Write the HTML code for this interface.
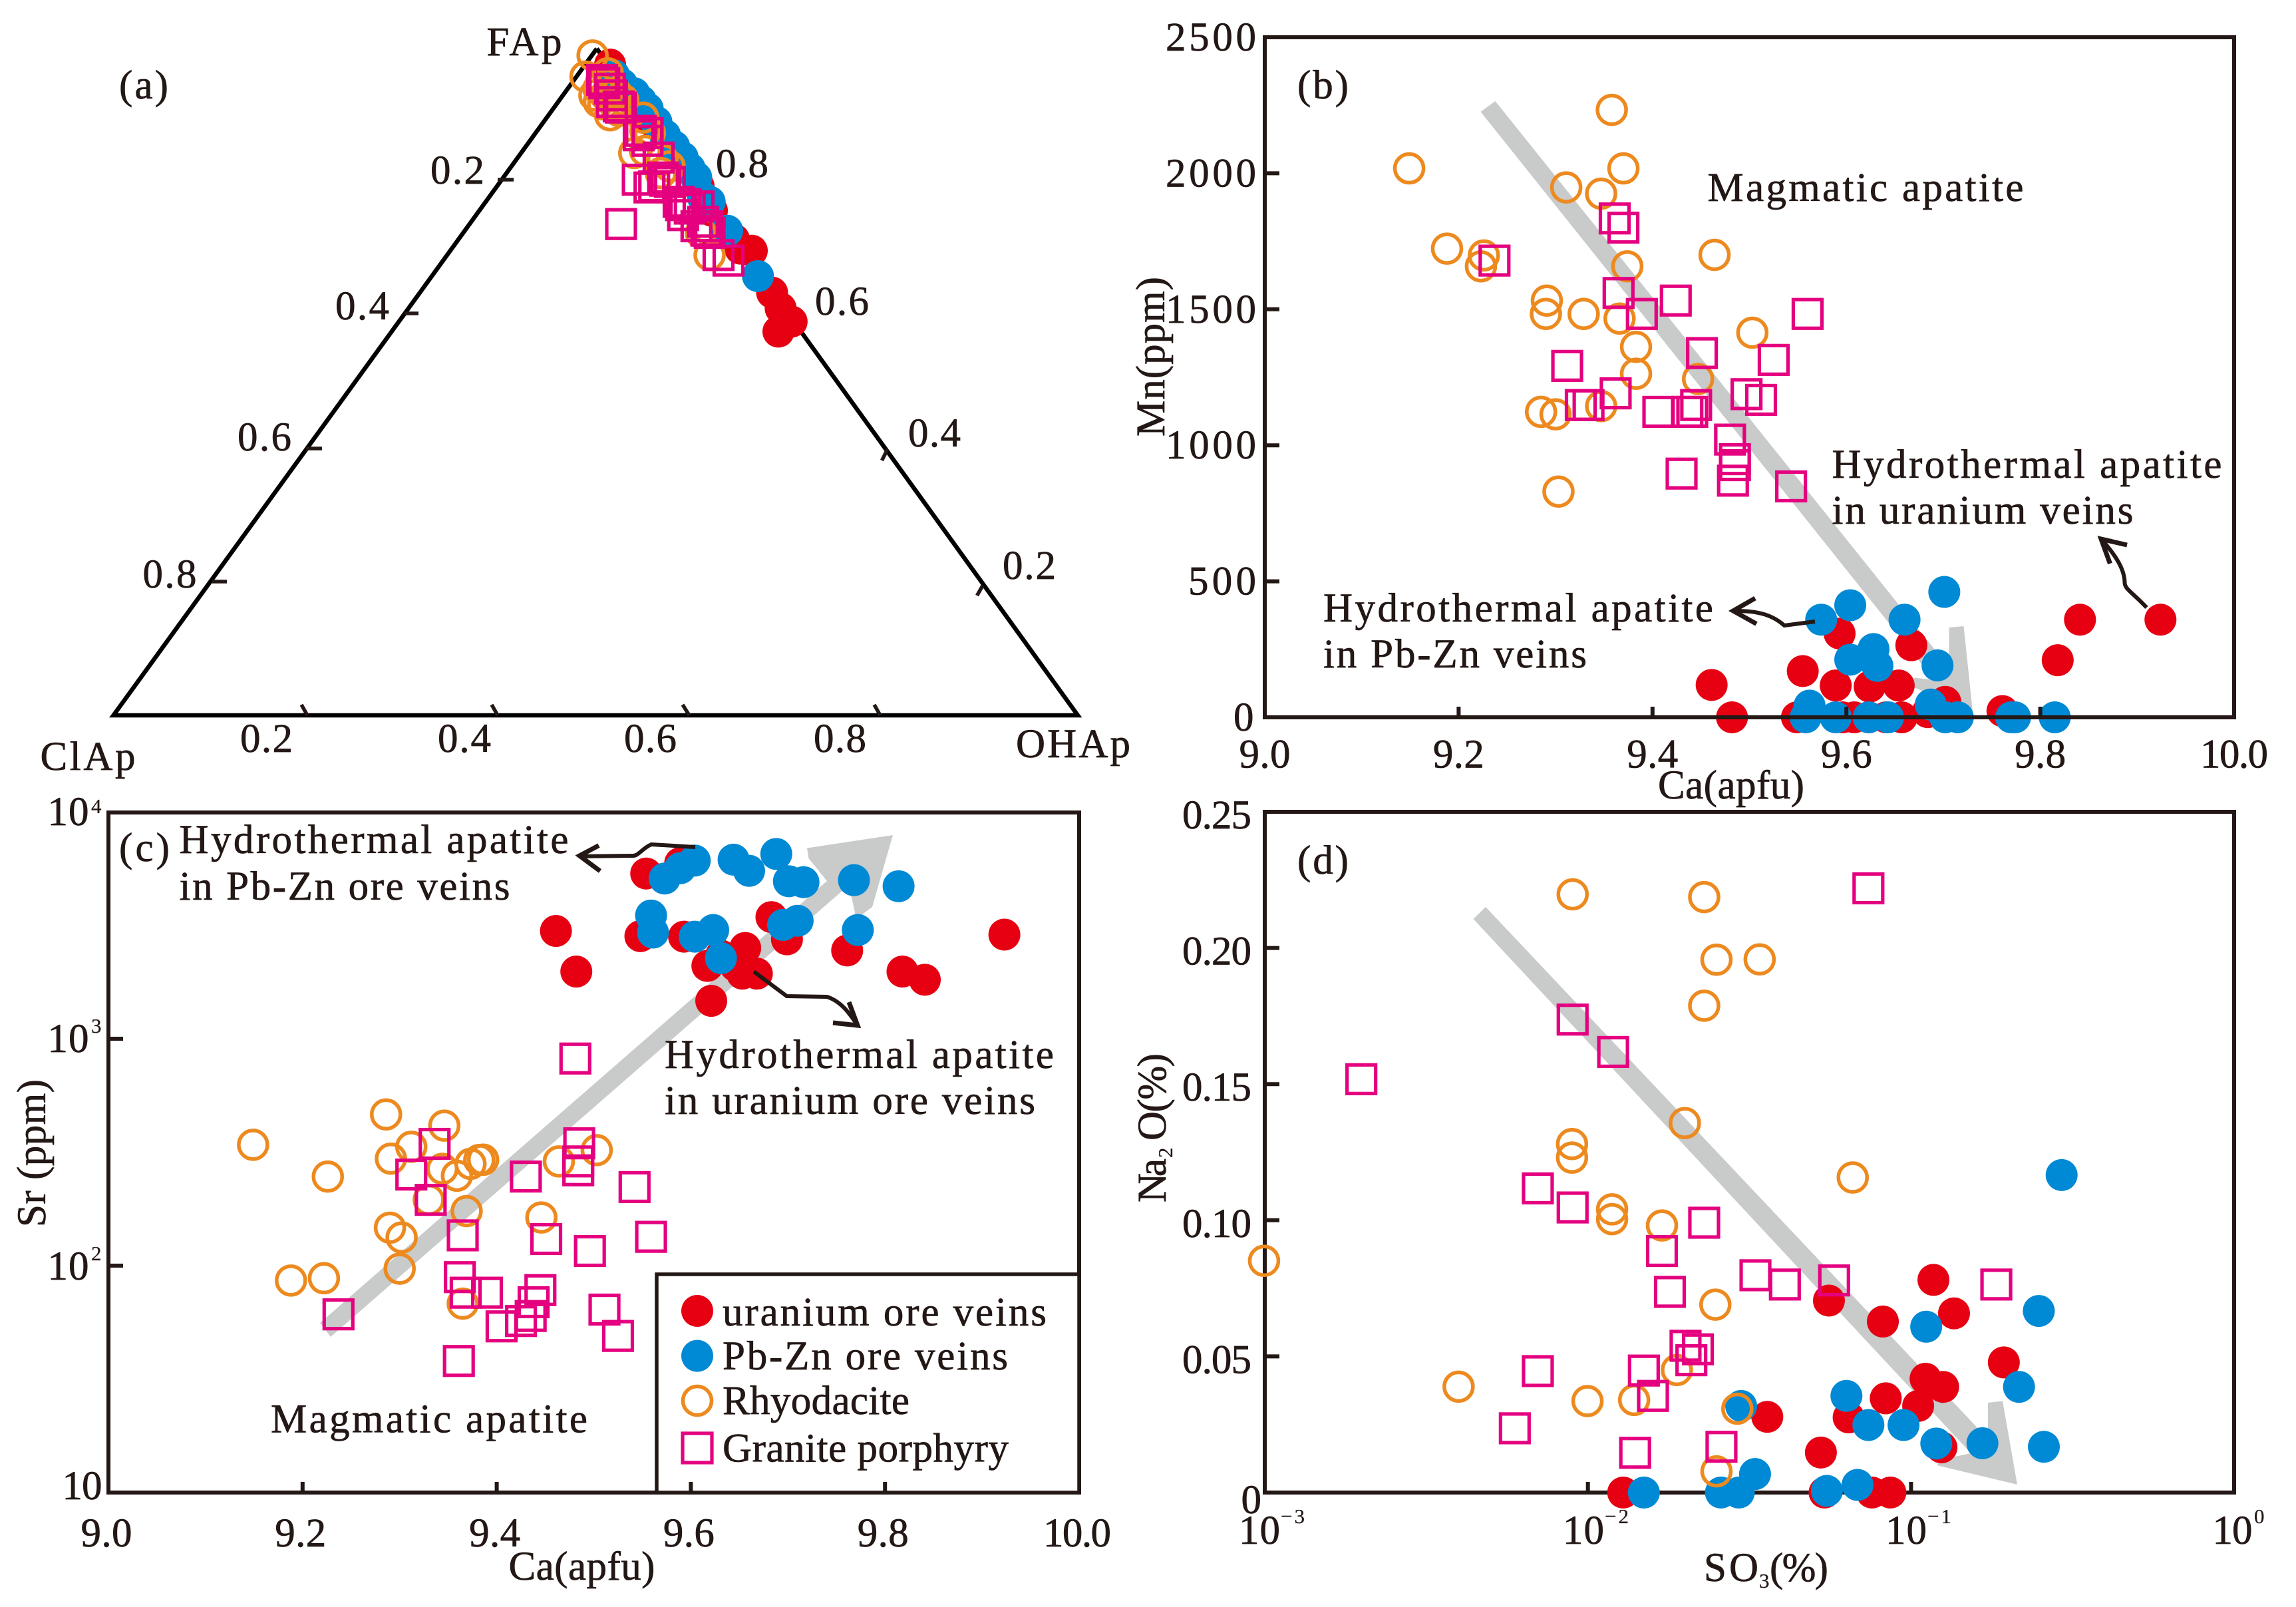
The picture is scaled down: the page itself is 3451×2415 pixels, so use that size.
<!DOCTYPE html>
<html lang="en">
<head>
<meta charset="utf-8">
<title>Apatite composition diagrams</title>
<style>
html,body{margin:0;padding:0;background:#fff;}
svg{display:block;}
text{font-family:"Liberation Serif","DejaVu Serif",serif;fill:#231815;font-size:61px;stroke:#231815;stroke-width:0.7px;}
.sup{font-size:31px;stroke-width:0.3px;}
</style>
</head>
<body>
<svg id="figure" xmlns="http://www.w3.org/2000/svg" width="3451" height="2415" viewBox="0 0 3451 2415">
<rect width="3451" height="2415" fill="#fff"/>

<g id="panel-a">
  <path d="M897,73 L170.5,1075 L1620,1075 L897,73" fill="none" stroke="#000" stroke-width="6.5"/>
  <g stroke="#231815" stroke-width="5.5" fill="none">
    <path d="M748,270H772"/>
    <path d="M608,471H629"/>
    <path d="M460,674H484"/>
    <path d="M319,874H341"/>
    <path d="M1325.5,692L1334,675"/>
    <path d="M1468.5,895L1477,880"/>
    <path d="M453,1059L462,1075"/>
    <path d="M739,1059L748,1075"/>
    <path d="M1026,1059L1036,1075"/>
    <path d="M1314,1059L1323,1075"/>
  </g>
  <text x="731.5" y="83" textLength="113">FAp</text>
  <text x="60.5" y="1157" textLength="143">ClAp</text>
  <text x="1527" y="1138" textLength="172">OHAp</text>
  <text x="179" y="148" textLength="74">(a)</text>
  <text x="647" y="276" textLength="81">0.2</text>
  <text x="504" y="480" textLength="81">0.4</text>
  <text x="357" y="677" textLength="81">0.6</text>
  <text x="214.5" y="883" textLength="81">0.8</text>
  <text x="1076" y="266" textLength="79">0.8</text>
  <text x="1225" y="473" textLength="81">0.6</text>
  <text x="1365" y="671" textLength="79">0.4</text>
  <text x="1507" y="870" textLength="80">0.2</text>
  <text x="361" y="1130" textLength="79">0.2</text>
  <text x="658" y="1130" textLength="80">0.4</text>
  <text x="938" y="1130" textLength="79">0.6</text>
  <text x="1223" y="1130" textLength="79">0.8</text>
</g>

<g id="panel-b">
  <polygon fill="#c9caca" points="2247.5,152 2929.5,1003 2929.5,943 2951.5,941 2965,1069 2869,1030 2878,1018.5 2907.5,1022 2225.5,168"/>
  <text x="1950" y="148" textLength="77">(b)</text>
  <text x="2566.5" y="302" textLength="475">Magmatic apatite</text>
  <text x="2753.5" y="718" textLength="586">Hydrothermal apatite</text>
  <text x="2753.5" y="787" textLength="453">in uranium veins</text>
  <text x="1989" y="934" textLength="586">Hydrothermal apatite</text>
  <text x="1989" y="1003" textLength="396">in Pb-Zn veins</text>
  <text transform="translate(1750,656) rotate(-90)" textLength="240">Mn(ppm)</text>
  <text x="2492" y="1200" textLength="220">Ca(apfu)</text>
</g>

<g id="panel-c">
  <polygon fill="#c9caca" points="481,1988 1243,1324 1215.5,1290 1213,1274.5 1342,1255 1311,1363 1287,1381 1276,1330 497,2009"/>
  <text x="179" y="1294" textLength="76">(c)</text>
  <text x="269.5" y="1282" textLength="585">Hydrothermal apatite</text>
  <text x="269.5" y="1352" textLength="497">in Pb-Zn ore veins</text>
  <text x="999" y="1605" textLength="585">Hydrothermal apatite</text>
  <text x="999" y="1674" textLength="557">in uranium ore veins</text>
  <text x="407" y="2152.5" textLength="476">Magmatic apatite</text>
  <text transform="translate(68,1844) rotate(-90)" textLength="222">Sr (ppm)</text>
  <text x="764.5" y="2374" textLength="220">Ca(apfu)</text>
  <text x="71.5" y="1240" textLength="62">10</text>
  <text class="sup" x="137" y="1222">4</text>
  <text x="71.5" y="1581" textLength="62">10</text>
  <text class="sup" x="137" y="1552">3</text>
  <text x="71.5" y="1923" textLength="62">10</text>
  <text class="sup" x="137" y="1894">2</text>
  <text x="93.5" y="2253" textLength="60">10</text>
</g>

<g id="panel-d">
  <polygon fill="#c9caca" points="2233,1363 2988,2162.5 2988,2108 3010,2105.5 3032,2231 2911,2202 2918.5,2193 2962.5,2184 2214.5,1381"/>
  <text x="1950" y="1313" textLength="77">(d)</text>
  <text x="2561" y="2376" textLength="82">SO</text>
  <text class="sup" x="2644" y="2386">3</text>
  <text x="2660" y="2376" textLength="88">(%)</text>
  <text transform="translate(1752,1807) rotate(-90)" textLength="66">Na</text>
  <text class="sup" transform="translate(1762,1740) rotate(-90)">2</text>
  <text transform="translate(1752,1714) rotate(-90)" textLength="131">O(%)</text>
  <text x="1862" y="2320" textLength="62">10</text>
  <text class="sup" x="1925" y="2289" textLength="36">−3</text>
  <text x="2349" y="2320" textLength="62">10</text>
  <text class="sup" x="2412" y="2289" textLength="36">−2</text>
  <text x="2834" y="2320" textLength="62">10</text>
  <text class="sup" x="2897" y="2289" textLength="36">−1</text>
  <text x="3325.5" y="2320" textLength="60">10</text>
  <text class="sup" x="3388" y="2289">0</text>
</g>

<g id="layer-marks-d">
  <rect x="1901" y="1220" width="1457" height="1023" fill="none" stroke="#231815" stroke-width="6"/>
</g>
<g id="marks"></g>
<g id="frames">
  <rect x="1901" y="56" width="1457" height="1022" fill="none" stroke="#231815" stroke-width="6"/>
  <rect x="163" y="1221" width="1459" height="1022" fill="none" stroke="#231815" stroke-width="6"/>
</g>

<g fill="none" stroke="#231815" stroke-width="6">
  <path d="M3226.5,913 C3205,890 3193,885 3193.5,875 C3193,855 3180,835 3160,812"/>
  <path d="M3197,819 L3158,810 L3171.5,847" stroke-width="7"/>
  <path d="M2728,934 L2682,940 C2665,925 2645,918 2608,918"/>
  <path d="M2638,899 L2605,918 L2640,937.5" stroke-width="7"/>
  <path d="M1045,1273 L979,1269 C965,1275 960,1286 951.5,1286 L874,1287"/>
  <path d="M900,1270.6 L871,1286 L902,1309" stroke-width="7"/>
  <path d="M1133,1460 L1182.5,1497 L1243,1498 C1265,1505 1278,1525 1287,1538"/>
  <path d="M1252,1537 L1289,1541 L1276,1506" stroke-width="7"/>
</g>

<g id="legend">
  <rect x="987" y="1915" width="635" height="328" fill="#fff" stroke="#231815" stroke-width="5.5"/>
  <circle cx="1048" cy="1970" r="24" fill="#e60012"/>
  <circle cx="1048" cy="2037.6" r="24" fill="#0089d4"/>
  <circle cx="1048" cy="2105" r="21.5" fill="none" stroke="#ed8a1f" stroke-width="5.5"/>
  <rect x="1026" y="2154" width="44" height="44" fill="none" stroke="#e4007f" stroke-width="5.2"/>
  <text x="1086" y="1992" textLength="487">uranium ore veins</text>
  <text x="1086" y="2058" textLength="429">Pb-Zn ore veins</text>
  <text x="1086" y="2125" textLength="281">Rhyodacite</text>
  <text x="1086" y="2196.5" textLength="430">Granite porphyry</text>
</g>
<g id="axis-furniture"></g>
</svg>

<script>
// ---------- Panel (a): ternary, FAp fraction and OHAp fraction ----------
const aRedF  = [0.976,0.9198,0.8932,0.7934,0.7568,0.700,0.634,0.6105,0.5905,0.5755,0.7136,0.6969];
const aRedOH = [0.027,0.0802,0.1096,0.2101,0.2422,0.300,0.366,0.3866,0.408,0.4018,0.2867,0.3135];
const aBlueF  = [0.960,0.933,0.910,0.870,0.8366,0.8067,0.7768,0.7269,0.6587,0.9464,0.9215,0.8899,0.8533,0.8200,0.7702];
const aBlueOH = [0.039,0.0735,0.099,0.137,0.172,0.201,0.223,0.273,0.339,0.0542,0.0862,0.1181,0.1548,0.1876,0.2332];
const aOrangeF  = [0.9897,0.958,0.9398,0.9198,0.900,0.8965,0.8733,0.8466,0.8234,0.6903,0.7269,0.963,0.933,0.9065,0.8333,0.9498,0.9464,0.9298,0.9331,0.9165,0.9165,0.9232,0.9298,0.8433,0.8134,0.8766,0.7236];
const aOrangeOH = [0.002,0.0105,0.033,0.0434,0.065,0.101,0.1196,0.128,0.165,0.273,0.255,0.031,0.0506,0.0707,0.153,0.0307,0.0416,0.0453,0.0551,0.0611,0.0496,0.067,0.0338,0.1184,0.1609,0.1133,0.2473];
const aPinkF  = [0.948,0.9298,0.9115,0.8766,0.870,0.8616,0.8366,0.8034,0.7917,0.8017,0.7652,0.760,0.7635,0.7269,0.6903,0.682,0.7368,0.800,0.7502,0.7335,0.7236,0.9198,0.9531,0.9398,0.9132,0.8733,0.7702,0.7668,0.7402,0.7335,0.8067,0.7934];
const aPinkOH = [0.035,0.052,0.0705,0.1087,0.1097,0.123,0.147,0.142,0.160,0.1714,0.206,0.2176,0.225,0.2514,0.2823,0.2968,0.158,0.177,0.2156,0.2378,0.2565,0.057,0.0302,0.0449,0.0674,0.1173,0.201,0.2096,0.2413,0.2492,0.1666,0.164];

// ---------- Panel (b): Mn vs Ca ----------
const bTicksX = [9.0,9.2,9.4,9.6,9.8,10.0];
const bTicksXLabels = ["9.0","9.2","9.4","9.6","9.8","10.0"];
const bTicksY = [0,500,1000,1500,2000,2500];
const bTicksYLabels = ["0","500","1000","1500","2000","2500"];
const bRedCa = [9.461,9.482,9.555,9.593,9.667,9.589,9.624,9.654,9.841,9.924,9.818,9.761,9.702,9.684,9.549,9.608,9.657,9.623,9.689,9.641,9.596];
const bRedMn = [119,0,170,308,265,117,113,117,359,359,210,23,57,19,0,0,0,0,23,0,0];
const bBlueCa = [9.701,9.604,9.574,9.660,9.628,9.604,9.632,9.694,9.562,9.687,9.558,9.589,9.623,9.643,9.702,9.715,9.770,9.815,9.774];
const bBlueMn = [461,412,359,359,251,212,189,191,43,47,0,0,0,0,0,0,0,0,0];
const bOrangeCa = [9.149,9.358,9.370,9.311,9.347,9.188,9.226,9.223,9.464,9.374,9.291,9.290,9.329,9.366,9.503,9.383,9.383,9.447,9.285,9.300,9.347,9.303];
const bOrangeMn = [2018,2233,2018,1948,1925,1723,1698,1658,1700,1658,1532,1483,1483,1466,1414,1362,1263,1244,1123,1114,1144,830];
const bPinkCa = [9.361,9.370,9.237,9.365,9.424,9.389,9.560,9.451,9.525,9.312,9.362,9.497,9.512,9.334,9.445,9.406,9.436,9.480,9.485,9.485,9.483,9.430,9.543,9.326,9.441];
const bPinkMn = [1834,1800,1679,1560,1532,1483,1483,1339,1314,1292,1191,1188,1167,1148,1148,1123,1123,1021,949,927,870,896,849,1148,1123];

// ---------- Panel (c): Sr vs Ca ----------
const cTicksX = [9.0,9.2,9.4,9.6,9.8,10.0];
const cTicksXLabels = ["9.0","9.2","9.4","9.6","9.8","10.0"];
const cTicksY = [100,1000];
const cRedCa = [9.461,9.482,9.554,9.589,9.548,9.593,9.656,9.699,9.683,9.761,9.818,9.841,9.923,9.621,9.617,9.653,9.668,9.631,9.646];
const cRedSr = [2985,1977,5346,5943,2832,2818,2512,2742,3436,2449,1977,1820,2877,1469,2094,1936,1936,2323,2094];
const cBlueCa = [9.573,9.589,9.604,9.644,9.660,9.688,9.701,9.716,9.768,9.814,9.559,9.561,9.604,9.623,9.631,9.695,9.710,9.772];
const cBlueSr = [5082,5640,6096,6155,5495,6520,4943,4898,5000,4699,3491,2938,2818,3013,2265,3175,3311,3013];
const cOrangeCa = [9.149,9.286,9.346,9.312,9.291,9.344,9.359,9.373,9.382,9.386,9.226,9.464,9.503,9.290,9.302,9.369,9.446,9.330,9.300,9.188,9.222,9.365];
const cOrangeSr = [341,464,414,334,296,267,249,281,292,293,247,288,323,147,133,174,163,195,97,86,88,68];
const cPinkCa = [9.481,9.336,9.485,9.312,9.484,9.484,9.430,9.542,9.332,9.365,9.451,9.559,9.496,9.362,9.368,9.390,9.445,9.438,9.435,9.425,9.405,9.511,9.525,9.361,9.237];
const cPinkSr = [818,344,346,252,288,263,247,222,195,136,131,134,116,89,76,76,78,69,60,57,54,64,49,38,61];

// ---------- Panel (d): Na2O vs SO3 ----------
const dTicksX = [0.01,0.1];
const dTicksY = [0,0.05,0.10,0.15,0.20,0.25];
const dTicksYLabels = ["0","0.05","0.10","0.15","0.20","0.25"];
const dRedSO3 = [0.0557,0.0818,0.1173,0.1358,0.1937,0.1109,0.1257,0.0835,0.1052,0.0359,0.0641,0.1242,0.0526,0.01286,0.0540,0.0757,0.0863];
const dRedNa2O = [0.0705,0.0628,0.0781,0.0658,0.0478,0.0418,0.0388,0.0346,0.0318,0.0278,0.0276,0.0166,0.0147,0,0,0,0];
const dBlueSO3 = [0.2924,0.2485,0.1114,0.2158,0.0631,0.0298,0.0738,0.0948,0.1197,0.1663,0.2576,0.0329,0.0683,0.0549,0.0149,0.0258,0.0293];
const dBlueNa2O = [0.1166,0.0667,0.0609,0.0388,0.0355,0.0318,0.0248,0.0248,0.018,0.0181,0.0168,0.0068,0.0028,0.0006,0,0,0];
const dOrangeSO3 = [0.00897,0.0229,0.0250,0.0340,0.0229,0.01995,0.0660,0.00893,0.00893,0.01188,0.01188,0.01695,0.0248,0.000995,0.00398,0.00997,0.0139,0.01885,0.0290,0.0250];
const dOrangeNa2O = [0.2197,0.2187,0.1957,0.1958,0.1788,0.1357,0.1157,0.128,0.123,0.104,0.1004,0.0981,0.069,0.0851,0.0389,0.0336,0.034,0.045,0.0308,0.0078];
const dPinkSO3 = [0.0738,0.00897,0.01197,0.00199,0.0070,0.00897,0.0229,0.01695,0.01794,0.0330,0.0407,0.0578,0.1836,0.02005,0.0219,0.0209,0.0070,0.0149,0.0159,0.00594,0.0140,0.0259];
const dPinkNa2O = [0.2219,0.1737,0.1618,0.1518,0.1117,0.1047,0.0991,0.0887,0.0737,0.0798,0.0764,0.0779,0.0764,0.0539,0.0526,0.0486,0.0446,0.0448,0.0355,0.0236,0.0146,0.0168];

const NS = 'http://www.w3.org/2000/svg';
const RED = '#e60012', BLUE = '#0089d4', ORANGE = '#ed8a1f', PINK = '#e4007f';
const marks = document.getElementById('marks');
const furniture = document.getElementById('axis-furniture');

// axis functions
function ternX(f, oh) { return 170.5 + (oh + f / 2) * 1449.5; }
function ternY(f) { return 1075 - f * 1002; }
function bX(v) { return 1901 + (v - 9) * 1457; }
function bY(v) { return 1078 - v / 2500 * 1022; }
function cX(v) { return 163 + (v - 9) * 1459; }
function cY(v) { return 2243 - (Math.log10(v) - 1) * 341; }
function dX(v) { return 1901 + (Math.log10(v) + 3) * 485.7; }
function dY(v) { return 2243 - v / 0.25 * 1023; }

function drawDots(xs, ys, fx, fy, color, name) {
  const g = document.createElementNS(NS, 'g');
  
  
  xs.forEach(function (x, i) {
    const c = document.createElementNS(NS, 'circle');
    
    
    c.setAttribute('cx', fx(x, ys[i]));
    c.setAttribute('cy', fy(ys[i], x));
    c.setAttribute('r', 24);
    c.setAttribute('fill', color);
    g.appendChild(c);
  });
  marks.appendChild(g);
}
function drawRings(xs, ys, fx, fy, color, name) {
  const g = document.createElementNS(NS, 'g');
  
  
  xs.forEach(function (x, i) {
    const c = document.createElementNS(NS, 'circle');
    
    
    c.setAttribute('cx', fx(x, ys[i]));
    c.setAttribute('cy', fy(ys[i], x));
    c.setAttribute('r', 21.5);
    c.setAttribute('fill', 'none');
    c.setAttribute('stroke', color);
    c.setAttribute('stroke-width', 5.5);
    g.appendChild(c);
  });
  marks.appendChild(g);
}
function drawSquares(xs, ys, fx, fy, color, name) {
  const g = document.createElementNS(NS, 'g');
  
  
  xs.forEach(function (x, i) {
    const r = document.createElementNS(NS, 'rect');
    
    
    r.setAttribute('x', fx(x, ys[i]) - 21.5);
    r.setAttribute('y', fy(ys[i], x) - 21.5);
    r.setAttribute('width', 43);
    r.setAttribute('height', 43);
    r.setAttribute('fill', 'none');
    r.setAttribute('stroke', color);
    r.setAttribute('stroke-width', 5.2);
    g.appendChild(r);
  });
  marks.appendChild(g);
}
function drawTick(x1, y1, x2, y2) {
  const p = document.createElementNS(NS, 'line');
  
  
  p.setAttribute('x1', x1);
  p.setAttribute('y1', y1);
  p.setAttribute('x2', x2);
  p.setAttribute('y2', y2);
  p.setAttribute('stroke', '#231815');
  p.setAttribute('stroke-width', 6);
  furniture.appendChild(p);
}
function drawLabel(str, x, y, len) {
  const t = document.createElementNS(NS, 'text');
  
  
  t.setAttribute('x', x);
  t.setAttribute('y', y);
  t.setAttribute('textLength', len);
  t.textContent = str;
  furniture.appendChild(t);
}
function digitsWidth(str) { return str.length === 1 ? 30 : (str.length === 3 ? 77 : (str.length === 4 && str.indexOf('.') >= 0 ? (str === '10.0' ? 102 : 104) : str.length * 34)); }

// Panel a marks: args are (f, oh)
const aXf = function (f, oh) { return ternX(f, oh); };
const aYf = function (oh, f) { return ternY(f); };
drawDots(aRedF, aRedOH, aXf, aYf, RED, 'a-uranium');
drawDots(aBlueF, aBlueOH, aXf, aYf, BLUE, 'a-pbzn');
drawRings(aOrangeF, aOrangeOH, aXf, aYf, ORANGE, 'a-rhyodacite');
drawSquares(aPinkF, aPinkOH, aXf, aYf, PINK, 'a-granite');

// Panel b marks
drawDots(bRedCa, bRedMn, bX, bY, RED, 'b-uranium');
drawDots(bBlueCa, bBlueMn, bX, bY, BLUE, 'b-pbzn');
drawRings(bOrangeCa, bOrangeMn, bX, bY, ORANGE, 'b-rhyodacite');
drawSquares(bPinkCa, bPinkMn, bX, bY, PINK, 'b-granite');

// Panel c marks
drawDots(cRedCa, cRedSr, cX, cY, RED, 'c-uranium');
drawDots(cBlueCa, cBlueSr, cX, cY, BLUE, 'c-pbzn');
drawRings(cOrangeCa, cOrangeSr, cX, cY, ORANGE, 'c-rhyodacite');
drawSquares(cPinkCa, cPinkSr, cX, cY, PINK, 'c-granite');

// Panel d marks
drawDots(dRedSO3, dRedNa2O, dX, dY, RED, 'd-uranium');
drawDots(dBlueSO3, dBlueNa2O, dX, dY, BLUE, 'd-pbzn');
drawRings(dOrangeSO3, dOrangeNa2O, dX, dY, ORANGE, 'd-rhyodacite');
drawSquares(dPinkSO3, dPinkNa2O, dX, dY, PINK, 'd-granite');

// Panel b axes
bTicksX.forEach(function (v, i) {
  if (i > 0 && i < bTicksX.length - 1) drawTick(bX(v), bY(0), bX(v), bY(0) - 16);
  const w = digitsWidth(bTicksXLabels[i]);
  drawLabel(bTicksXLabels[i], bX(v) - w / 2, 1153.5, w);
});
bTicksY.forEach(function (v, i) {
  if (i > 0 && i < bTicksY.length - 1) drawTick(1901, bY(v), 1923, bY(v));
  const w = bTicksYLabels[i].length * 34;
  drawLabel(bTicksYLabels[i], 1888 - w, bY(v) + 20, w);
});

// Panel c axes
cTicksX.forEach(function (v, i) {
  if (i > 0 && i < cTicksX.length - 1) drawTick(cX(v), 2243, cX(v), 2227);
  const w = digitsWidth(cTicksXLabels[i]);
  drawLabel(cTicksXLabels[i], cX(v) - w / 2 - 3, 2324, w);
});
cTicksY.forEach(function (v) {
  drawTick(163, cY(v), 185, cY(v));
});

// Panel d axes
dTicksX.forEach(function (v) {
  drawTick(dX(v), 2243, dX(v), 2227);
});
dTicksY.forEach(function (v, i) {
  if (i > 0 && i < dTicksY.length - 1) drawTick(1901, dY(v), 1923, dY(v));
  const label = dTicksYLabels[i];
  const w = label.length === 1 ? 30 : 104;
  drawLabel(label, (label.length === 1 ? 1895.5 : 1881) - w, dY(v) + (label.length === 1 ? 31 : 25), w);
});
</script>
</body>
</html>
